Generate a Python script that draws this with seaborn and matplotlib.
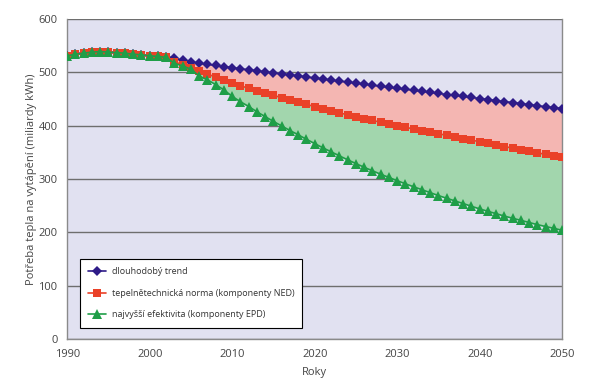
import numpy as np
import pandas as pd
import seaborn as sns
import matplotlib.pyplot as plt

years = list(range(1990, 2051))

# shared part 1990-2002
common = [531, 534, 536, 538, 539, 538, 537, 536, 534, 533, 531, 530, 528]

trend = common + [
    526.5, 523, 520, 517, 515, 513, 511, 509, 506.5, 505, 503,
    501, 499, 497, 495.5, 493.5, 491.5, 489.5, 487.5, 485.5, 483.5,
    482, 480, 478, 476, 474, 472, 470, 468.5, 466.5, 464.5,
    462.5, 460.5, 458.5, 457, 455, 453, 451, 449, 447, 445,
    443.5, 441.5, 439.5, 437.5, 435.5, 434, 432]

ned = common + [
    520, 514, 508, 503, 497, 491, 486, 481, 475, 470, 466,
    461.5, 457, 452.5, 448, 444, 440, 436, 432, 428, 424,
    420.5, 417, 413.5, 410, 406.5, 403, 400, 397, 394, 391,
    388, 385, 382, 379, 376, 373, 370, 367, 364, 361,
    358, 355, 352, 349, 346.5, 344, 341]

epd = common + [
    517, 512, 506, 493, 486, 477, 467, 455, 445, 436, 426,
    417, 408, 399.5, 391, 383, 374.5, 366.5, 358.5, 351, 343.5,
    336, 329, 322, 315.5, 309, 303, 297, 291, 285.5, 280,
    274.5, 269, 264, 259, 254, 249, 244, 239.5, 235, 230.5,
    226.5, 222.5, 218.5, 214.5, 211, 207.5, 204]

labels = ['dlouhodobý trend',
          'tepelnětechnická norma (komponenty NED)',
          'najvyšší efektivita (komponenty EPD)']

df = pd.DataFrame({'rok': years, 'trend': trend, 'ned': ned, 'epd': epd})

sns.set_style('white')
plt.rcParams['font.family'] = ['Open Sans', 'DejaVu Sans']

fig = plt.figure(figsize=(6, 3.81), dpi=100)
ax = fig.add_axes([0.112, 0.110, 0.825, 0.840])
ax.set_facecolor('#e1e1f1')

ax.fill_between(df.rok, df.trend, df.ned, color='#f4b6b2', lw=0, zorder=1)
ax.fill_between(df.rok, df.ned, df.epd, color='#a2d6ad', lw=0, zorder=1)

series = [('trend', '#2e1b88', 'D', 5), ('ned', '#ea4128', 's', 5.5),
          ('epd', '#1f9e48', '^', 6.5)]
for (col, color, mk, ms), lab in zip(series, labels):
    sns.lineplot(data=df, x='rok', y=col, ax=ax, color=color, marker=mk,
                 markersize=ms, markeredgewidth=0, linewidth=1.2,
                 label=lab, zorder=3)

ax.set_xlim(1990, 2050)
ax.set_ylim(0, 600)
ax.set_xticks(range(1990, 2051, 10))
ax.set_yticks(range(0, 601, 100))
ax.yaxis.grid(True, color='#6e6e6e', linewidth=1)
ax.xaxis.grid(False)
ax.set_axisbelow(True)
for s in ax.spines.values():
    s.set_color('#8a8a8a')
    s.set_linewidth(1)
ax.spines['top'].set_visible(False)
ax.tick_params(axis='both', direction='out', length=4, width=1,
               color='#8a8a8a', labelsize=8, labelcolor='#444444', pad=3)

ax.set_xlabel('Roky', fontsize=8, color='#444444', labelpad=5)
ax.set_ylabel('Potřeba tepla na vytápění (miliardy kWh)', fontsize=8,
              color='#444444', labelpad=1)

leg = ax.legend(loc='lower left', bbox_to_anchor=(0.025, 0.036),
                borderaxespad=0, fontsize=6.5, frameon=True, fancybox=False,
                edgecolor='black', framealpha=1, borderpad=0.9,
                labelspacing=1.4, handlelength=2.0, handletextpad=0.65,
                markerscale=1.0)
leg.get_frame().set_linewidth(0.8)
for t in leg.get_texts():
    t.set_color('#333333')

plt.savefig('out.png', dpi=100)
